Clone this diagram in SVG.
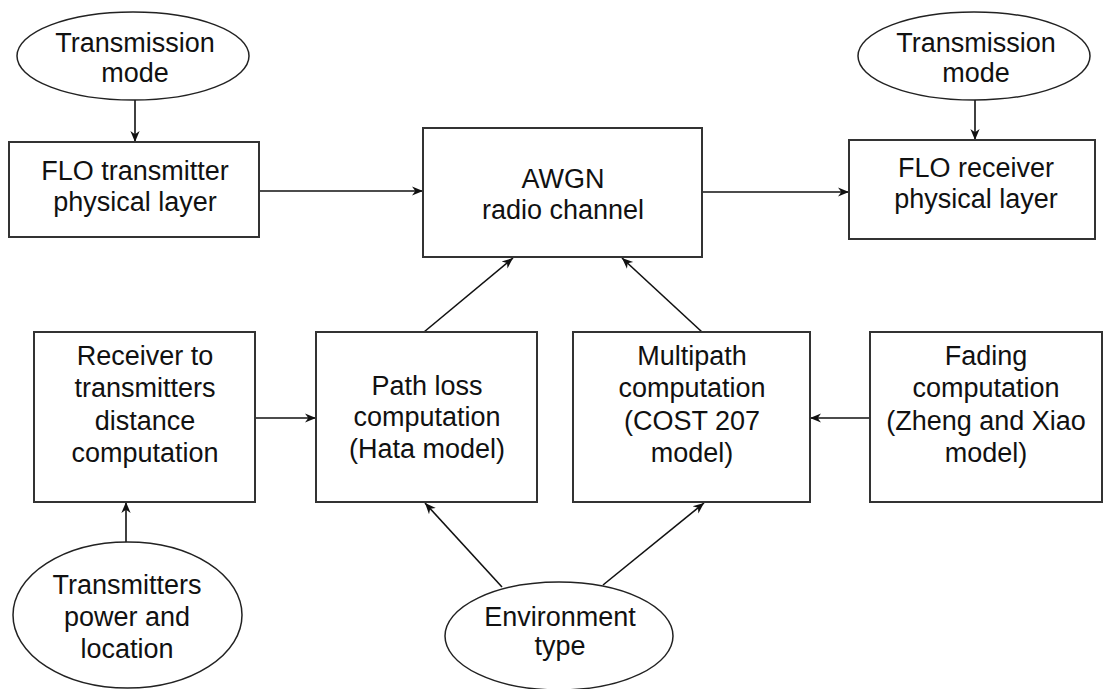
<svg xmlns="http://www.w3.org/2000/svg" width="1104" height="689" viewBox="0 0 1104 689">
  <style>
    .box { fill: #ffffff; stroke: #333333; stroke-width: 2; }
    .oval { fill: #ffffff; stroke: #222222; stroke-width: 1.5; }
    .lbl { font-family: "Liberation Sans", Arial, sans-serif; font-size: 27px; fill: #111111; text-anchor: middle; }
    .wire { fill: none; stroke: #111111; stroke-width: 1.6; marker-end: url(#arrow); }
  </style>
  <defs>
    <marker id="arrow" viewBox="0 0 10 10" refX="10" refY="5" markerWidth="11" markerHeight="11" markerUnits="userSpaceOnUse" orient="auto">
      <path d="M0,0.8 L10,5 L0,9.2 L3,5 z" fill="#111111"/>
    </marker>
  </defs>
  <rect width="1104" height="689" fill="#ffffff"/>

  <!-- connectors -->
  <g id="connectors">
    <line class="wire" x1="135" y1="100" x2="135" y2="142"/>
    <line class="wire" x1="975" y1="100" x2="975" y2="140"/>
    <line class="wire" x1="259" y1="191" x2="423" y2="191"/>
    <line class="wire" x1="702" y1="192" x2="849" y2="192"/>
    <line class="wire" x1="424" y1="332" x2="513" y2="258"/>
    <line class="wire" x1="702" y1="332" x2="622" y2="258"/>
    <line class="wire" x1="255" y1="418" x2="316" y2="418"/>
    <line class="wire" x1="870" y1="418" x2="810" y2="418"/>
    <line class="wire" x1="126" y1="542" x2="126" y2="502"/>
    <line class="wire" x1="502" y1="587" x2="425" y2="503"/>
    <line class="wire" x1="603" y1="585" x2="704" y2="503"/>
  </g>

  <!-- inputs at the top -->
  <g id="tx-mode">
    <ellipse class="oval" cx="133" cy="56" rx="116" ry="44"/>
    <text class="lbl" x="135" y="52">Transmission</text>
    <text class="lbl" x="135" y="82">mode</text>
  </g>
  <g id="rx-mode">
    <ellipse class="oval" cx="974" cy="56" rx="116" ry="44"/>
    <text class="lbl" x="976" y="52">Transmission</text>
    <text class="lbl" x="976" y="82">mode</text>
  </g>

  <!-- main chain -->
  <g id="flo-tx">
    <rect class="box" x="9" y="142" width="250" height="95"/>
    <text class="lbl" x="135" y="180">FLO transmitter</text>
    <text class="lbl" x="135" y="211">physical layer</text>
  </g>
  <g id="awgn">
    <rect class="box" x="423" y="128" width="279" height="129"/>
    <text class="lbl" x="563" y="188">AWGN</text>
    <text class="lbl" x="563" y="219">radio channel</text>
  </g>
  <g id="flo-rx">
    <rect class="box" x="849" y="140" width="246" height="99"/>
    <text class="lbl" x="976" y="177">FLO receiver</text>
    <text class="lbl" x="976" y="208">physical layer</text>
  </g>

  <!-- channel model blocks -->
  <g id="distance">
    <rect class="box" x="34" y="332" width="221" height="170"/>
    <text class="lbl" x="145" y="365">Receiver to</text>
    <text class="lbl" x="145" y="397">transmitters</text>
    <text class="lbl" x="145" y="430">distance</text>
    <text class="lbl" x="145" y="462">computation</text>
  </g>
  <g id="path-loss">
    <rect class="box" x="316" y="332" width="221" height="170"/>
    <text class="lbl" x="427" y="395">Path loss</text>
    <text class="lbl" x="427" y="426">computation</text>
    <text class="lbl" x="427" y="458">(Hata model)</text>
  </g>
  <g id="multipath">
    <rect class="box" x="573" y="332" width="237" height="170"/>
    <text class="lbl" x="692" y="365">Multipath</text>
    <text class="lbl" x="692" y="397">computation</text>
    <text class="lbl" x="692" y="430">(COST 207</text>
    <text class="lbl" x="692" y="462">model)</text>
  </g>
  <g id="fading">
    <rect class="box" x="870" y="332" width="232" height="170"/>
    <text class="lbl" x="986" y="365">Fading</text>
    <text class="lbl" x="986" y="397">computation</text>
    <text class="lbl" x="986" y="430">(Zheng and Xiao</text>
    <text class="lbl" x="986" y="462">model)</text>
  </g>

  <!-- inputs at the bottom -->
  <g id="tx-power">
    <ellipse class="oval" cx="127.5" cy="615" rx="114.5" ry="73"/>
    <text class="lbl" x="127" y="594">Transmitters</text>
    <text class="lbl" x="127" y="626">power and</text>
    <text class="lbl" x="127" y="658">location</text>
  </g>
  <g id="environment">
    <ellipse class="oval" cx="559" cy="636" rx="114" ry="54"/>
    <text class="lbl" x="560" y="626">Environment</text>
    <text class="lbl" x="560" y="655">type</text>
  </g>
</svg>
